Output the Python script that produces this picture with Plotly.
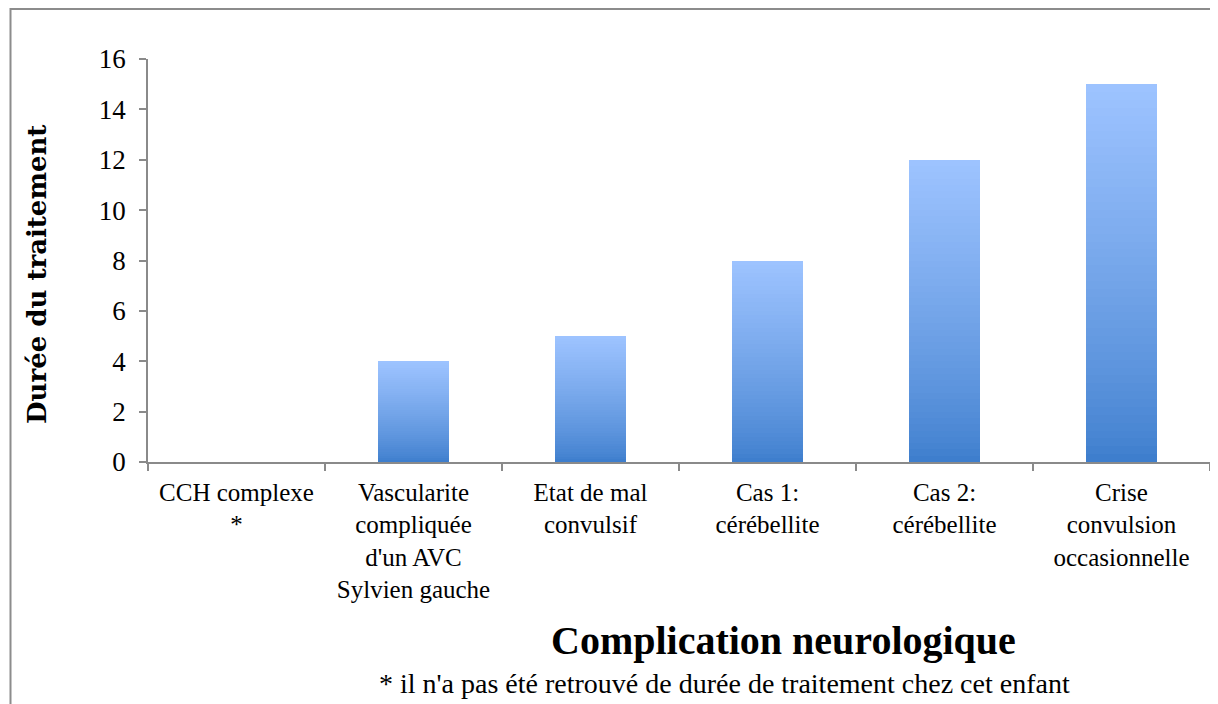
import plotly.graph_objects as go

categories = [
    "CCH complexe<br>*",
    "Vascularite<br>compliquée<br>d'un AVC<br>Sylvien gauche",
    "Etat de mal<br>convulsif",
    "Cas 1:<br>cérébellite",
    "Cas 2:<br>cérébellite",
    "Crise<br>convulsion<br>occasionnelle",
]
durations = [0, 4, 5, 8, 12, 15]
y_ticks = [0, 2, 4, 6, 8, 10, 12, 14, 16]

y_title = "Durée du traitement"
x_title = "Complication neurologique"
footnote = "* il n'a pas été retrouvé de durée de traitement chez cet enfant"

# vertical gradient: bars drawn as stacked slices of each value
N_SLICES = 48
bottom_rgb = (62, 126, 205)
top_rgb = (157, 195, 255)


def mix(t):
    t2 = t ** 0.8
    return "rgb({},{},{})".format(*[round(b + (u - b) * t2) for b, u in zip(bottom_rgb, top_rgb)])


fig = go.Figure()
for k in range(N_SLICES):
    fig.add_trace(go.Bar(
        x=categories,
        y=[v / N_SLICES for v in durations],
        marker=dict(color=mix(k / (N_SLICES - 1)), line=dict(width=0)),
        showlegend=False,
        hoverinfo="skip",
    ))

OFF = 8  # page body margin
W, H = 1210, 696
# target page positions of plot area: left 148, right 1210, top 59, bottom 462
L, T = 148 - OFF, 59 - OFF
R = W - (1210 - OFF)
B = H - (462 - OFF)
pw, ph = W - L - R, H - T - B


def px(x):
    return (x - OFF - L) / pw


def py(y):
    return (H - B - (y - OFF)) / ph


axis_col = "#8a8a8a"
fig.update_layout(
    width=W, height=H,
    margin=dict(l=L, r=R, t=T, b=B, pad=0),
    barmode="stack",
    bargap=0.6,
    plot_bgcolor="white",
    paper_bgcolor="white",
    font=dict(family="Liberation Serif", size=26, color="black"),
    xaxis=dict(
        type="category",
        showline=True, linecolor=axis_col, linewidth=1.5,
        ticks="outside", tickson="boundaries", ticklen=7, tickcolor=axis_col, tickwidth=1.5,
        showgrid=False, zeroline=False,
        ticklabelstandoff=7,
        tickfont=dict(family="Liberation Serif", size=25, color="black"),
    ),
    yaxis=dict(
        range=[0, 16], tickvals=y_ticks,
        showline=True, linecolor=axis_col, linewidth=1.5,
        ticks="outside", ticklen=7, tickcolor=axis_col, tickwidth=1.5,
        showgrid=False, zeroline=False,
        ticklabelstandoff=8,
        tickfont=dict(family="Liberation Serif", size=27, color="black"),
    ),
    shapes=[
        dict(type="rect", xref="paper", yref="paper",
             x0=px(10.5), x1=px(1240), y0=py(9), y1=py(740),
             line=dict(color="#8c8c8c", width=2), fillcolor="rgba(0,0,0,0)", layer="below"),
    ],
    annotations=[
        dict(text=y_title, textangle=-90, xref="paper", yref="paper",
             x=px(37), y=py(275), showarrow=False, xanchor="center", yanchor="middle",
             font=dict(family="DejaVu Serif", size=26, color="black", weight="bold")),
        dict(text=x_title, xref="paper", yref="paper",
             x=px(783), y=py(640), showarrow=False, xanchor="center", yanchor="middle",
             font=dict(family="Liberation Serif", size=40, color="black", weight="bold")),
        dict(text=footnote, xref="paper", yref="paper",
             x=px(724), y=py(683), showarrow=False, xanchor="center", yanchor="middle",
             font=dict(family="Liberation Serif", size=28, color="black")),
    ],
)

fig.write_html("out.html")
